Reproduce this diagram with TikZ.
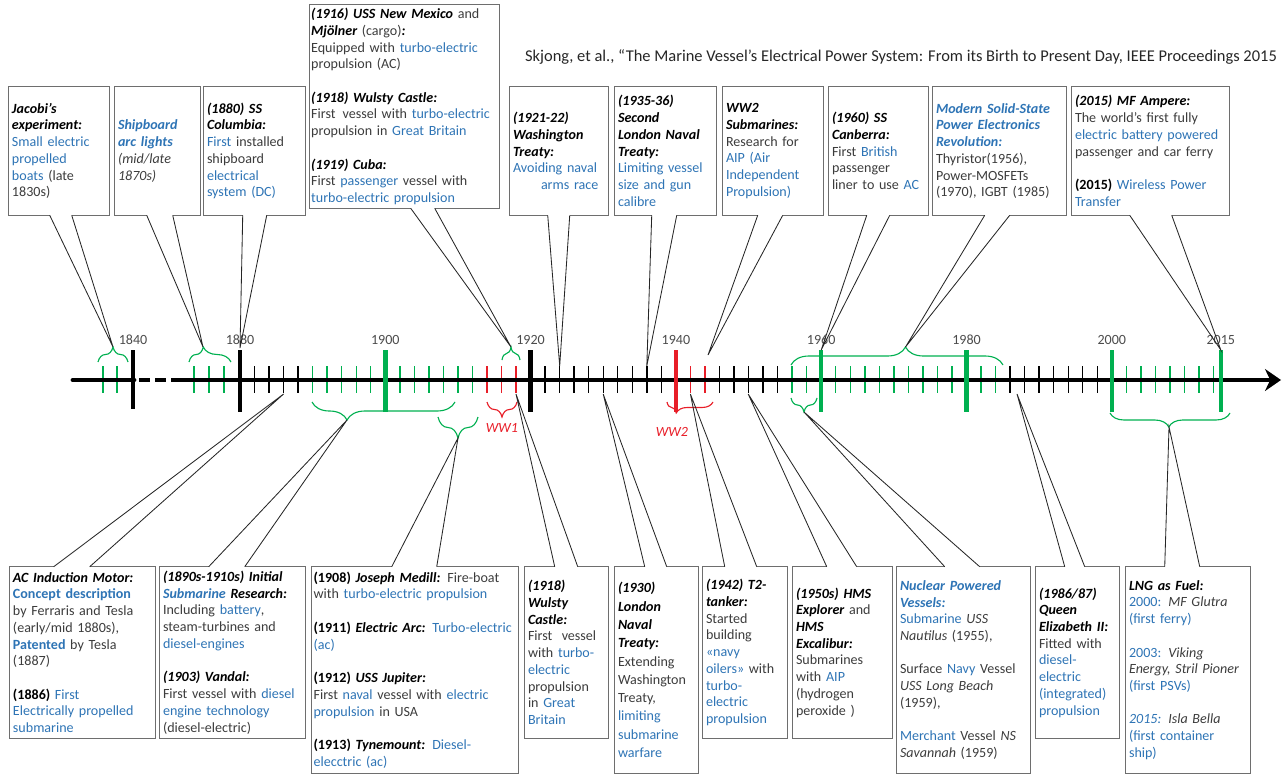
\documentclass[tikz,border=0pt]{standalone}
\usepackage{fontspec}
\setmainfont{Carlito}
\usetikzlibrary{arrows.meta,calc,decorations.pathreplacing}

\definecolor{txtgray}{RGB}{60,60,60}
\definecolor{hiblue}{RGB}{46,116,181}
\definecolor{tlgreen}{RGB}{0,176,80}
\definecolor{tlred}{RGB}{232,30,40}
\definecolor{boxgray}{RGB}{110,110,110}

\newcommand{\blu}[1]{\textcolor{hiblue}{#1}}
\newcommand{\blub}[1]{\textcolor{hiblue}{\bfseries #1}}
\newcommand{\bluh}[1]{\textcolor{hiblue}{\bfseries\itshape #1}}
\newcommand{\hdg}[1]{\textcolor{black}{\bfseries\itshape #1}}
\newcommand{\yrb}[1]{\textcolor{black}{\bfseries #1}}

% box with pointer below (#1 box, #2 tip, #3/#4 base offsets from the left side)
\newcommand{\calldown}[4]{%
  \draw[boxline] ($(#1.south west)+(#3,0)$) -- (#1.south west) -- (#1.north west)
    -- (#1.north east) -- (#1.south east) -- ($(#1.south west)+(#4,0)$);
  \draw[pointer] ($(#1.south west)+(#3,0)$) -- (#2) -- ($(#1.south west)+(#4,0)$);}
% box with pointer above
\newcommand{\callup}[4]{%
  \draw[boxline] ($(#1.north west)+(#3,0)$) -- (#1.north west) -- (#1.south west)
    -- (#1.south east) -- (#1.north east) -- ($(#1.north west)+(#4,0)$);
  \draw[pointer] ($(#1.north west)+(#3,0)$) -- (#2) -- ($(#1.north west)+(#4,0)$);}

\begin{document}
\begin{tikzpicture}[x=0.25mm, y=-0.25mm,
  tbox/.style={align=left, inner xsep=0.75mm, inner ysep=0.5mm, text=txtgray,
    font=\fontsize{10}{11.9}\selectfont},
  boxline/.style={draw=boxgray, line width=0.9pt},
  pointer/.style={draw=black!85, line width=0.6pt},
  axisline/.style={line width=3.5pt, black},
  thintick/.style={line width=1pt},
  yeartick/.style={line width=3.2pt},
  yearlbl/.style={text=black!70, font=\fontsize{10}{12}\selectfont},
  upbrace/.style={draw=tlgreen, line width=0.8pt, decorate, decoration={brace, #1}},
  dnbrace/.style={draw=tlgreen, line width=0.8pt, decorate, decoration={brace, mirror, #1}},
  wwlbl/.style={text=tlred, font=\fontsize{10}{12}\selectfont\itshape}]

\useasboundingbox (0,0) rectangle (1282,774);

% Reference
\node[font=\fontsize{11.7}{14}\selectfont, text=black!85] (ref) at (901,57)
  {Skjong, et al., “The Marine Vessel’s Electrical Power System: From its Birth to Present Day, IEEE Proceedings 2015};

% Timeline: thin ticks
\foreach \x in {103,117,194,209,224} \draw[thintick,tlgreen] (\x,366) -- (\x,393);
\foreach \yr in {1882,1884,1886,1888,1922,1924,...,1938,1946,1948,...,1954,1986,1988,...,1998}
  \draw[thintick] ({240+(\yr-1880)*7.265},366) -- ++(0,27);
\foreach \yr in {1890,1892,...,1898,1902,1904,...,1912,1956,1958,1962,1964,...,1978,1982,1984,2002,2004,...,2014}
  \draw[thintick,tlgreen] ({240+(\yr-1880)*7.265},366) -- ++(0,27);
\foreach \yr in {1914,1916,1918,1942,1944}
  \draw[thintick,tlred] ({240+(\yr-1880)*7.265},366) -- ++(0,27);

% axis
\draw[axisline, line cap=round] (73,380) -- (134,380);
\draw[axisline, dash pattern=on 2.75mm off 1.25mm] (139,380) -- (181,380);
\draw[axisline, -{Stealth[length=4mm,width=5.5mm]}] (181,380) -- (1281,380);

% year ticks and labels
\draw[yeartick] (133,350) -- (133,409);
\draw[yeartick] (240,350) -- (240,412);
\foreach \yr/\col in {1900/tlgreen,1920/black,1940/tlred,1960/tlgreen,1980/tlgreen,2000/tlgreen,2015/tlgreen}
  \draw[yeartick,\col] ({240+(\yr-1880)*7.265},350) -- ++(0,62);
\node[yearlbl] (y1840) at (133,340) {1840};
\node[yearlbl] (y1880) at (240,340) {1880};
\foreach \yr in {1900,1920,...,2000,2015}
  \node[yearlbl] (y\yr) at ({240+(\yr-1880)*7.265},340) {\yr};

% braces
\draw[upbrace={amplitude=3.75mm}] (98,362) -- (128,362);
\draw[upbrace={amplitude=3.75mm, aspect=0.34}] (189,362) -- (231,362);
\draw[upbrace={amplitude=3.25mm}] (502,360) -- (520,360);
\draw[upbrace={amplitude=4.5mm, aspect=0.54}] (791,365) -- (1003,365);
\draw[dnbrace={amplitude=4.5mm, aspect=0.245}] (312,402) -- (455,402);
\draw[dnbrace={amplitude=5.25mm}] (438,417) -- (478,417);
\draw[dnbrace={amplitude=3.5mm}] (791,398) -- (817,398);
\draw[dnbrace={amplitude=3.5mm, aspect=0.49}] (1110,413) -- (1230,413);
\draw[dnbrace={amplitude=3.75mm}, draw=tlred] (487,402) -- (517,402);
\draw[dnbrace={amplitude=2.75mm, aspect=0.2}, draw=tlred] (667,402) -- (713,402);
\node[wwlbl] (ww1) at (502,428) {WW1};
\node[wwlbl] (ww2) at (672,432) {WW2};

% pointer tips
\coordinate (br1836) at (113,347);
\coordinate (br1875) at (203,347);
\coordinate (t1880) at (240,348);
\coordinate (br1917) at (511,347);
\coordinate (t1924) at (559.7,366);
\coordinate (t1936) at (646.8,366);
\coordinate (t1944) at (708,355);
\coordinate (t1960) at (821.2,350);
\coordinate (br1970) at (905.5,347);
\coordinate (t2015) at (1220.8,350);
\coordinate (t1886) at (283.6,394);
\coordinate (br1900) at (347,420);
\coordinate (br1911) at (458,438);
\coordinate (t1918) at (516,394);
\coordinate (t1930) at (603.2,394);
\coordinate (t1942) at (690.4,394);
\coordinate (t1950) at (748.2,394);
\coordinate (br1957) at (804,412);
\coordinate (t1987) at (1017,394);
\coordinate (br2007) at (1169,427);

% Top row
\node[tbox, text width=23.5mm, minimum height=32mm] (jac) at (59,151)
  {\hdg{Jacobi’s}\\ \hdg{experiment:}\\ \blu{Small electric}\\ \blu{propelled}\\ \blu{boats} (late\\ 1830s)};
\node[tbox, text width=19.75mm, minimum height=32mm] (arc) at (157.5,151)
  {\bluh{Shipboard}\\ \bluh{arc lights}\\ \textit{(mid/late}\\ \textit{1870s)}};
\node[tbox, text width=23.75mm, minimum height=32mm] (col) at (254.5,151)
  {\hdg{(1880) SS}\\ \hdg{Columbia:}\\ \blu{First} installed\\ shipboard\\ \blu{electrical}\\ \blu{system (DC)}};
\node[tbox, inner xsep=0.3mm, text width=46.65mm, minimum height=50.75mm] (mex) at (404.5,106.5)
  {\hdg{(1916) USS New Mexico} and\\ \hdg{Mjölner} (cargo)\hdg{:}\\ Equipped with \blu{turbo-electric}\\ propulsion (AC)\\ ~\\
   \hdg{(1918) Wulsty Castle:}\\ First\,\ vessel with \blu{turbo-electric}\\ propulsion in \blu{Great Britain}\\ ~\\
   \hdg{(1919) Cuba:}\\ First \blu{passenger} vessel with\\ \blu{turbo-electric propulsion}};
\node[tbox, text width=23mm, minimum height=32mm] (was) at (559,151)
  {\hdg{(1921-22)}\\ \hdg{Washington}\\ \hdg{Treaty:}\\ \blu{Avoiding naval}\\ \hspace*{7mm}\blu{arms race}};
\node[tbox, text width=23.75mm, minimum height=32mm] (lon) at (665.5,151)
  {\hdg{(1935-36)}\\ \hdg{Second}\\ \hdg{London Naval}\\ \hdg{Treaty:}\\ \blu{Limiting vessel}\\ \blu{size and gun}\\ \blu{calibre}};
\node[tbox, text width=23.5mm, minimum height=32mm] (sub) at (773,151)
  {\hdg{WW2}\\ \hdg{Submarines:}\\ Research for\\ \blu{AIP (Air}\\ \blu{Independent}\\ \blu{Propulsion)}};
\node[tbox, text width=23.25mm, minimum height=32mm] (can) at (878.5,151)
  {\hdg{(1960) SS}\\ \hdg{Canberra:}\\ First \blu{British}\\ passenger\\ liner to use \blu{AC}};
\node[tbox, text width=31.75mm, minimum height=32mm] (sst) at (999.5,151)
  {\bluh{Modern Solid-State}\\ \bluh{Power Electronics}\\ \bluh{Revolution:}\\ Thyristor(1956),\\ Power-MOSFETs\\ (1970), IGBT (1985)};
\node[tbox, text width=37.75mm, minimum height=32mm] (amp) at (1150.5,151)
  {\hdg{(2015) MF Ampere:}\\ The world’s first fully\\ \blu{electric battery powered}\\ passenger and car ferry\\ ~\\ \yrb{(2015)} \blu{Wireless Power}\\ \blu{Transfer}};

\calldown{jac}{br1836}{41}{63}
\calldown{arc}{br1875}{32}{58}
\calldown{col}{t1880}{39}{63}
\calldown{mex}{br1917}{101}{125}
\calldown{was}{t1924}{38}{60}
\calldown{lon}{t1936}{37}{62}
\calldown{sub}{t1944}{35}{60}
\calldown{can}{t1960}{38}{61}
\calldown{sst}{br1970}{52}{77}
\calldown{amp}{t2015}{58}{100}

% Bottom row
\node[tbox, text width=34.75mm, minimum height=42.75mm] (acm) at (82.5,652.5)
  {\hdg{AC Induction Motor:}\\ \blub{Concept description}\\ by Ferraris and Tesla\\ (early/mid 1880s),\\ \blub{Patented} by Tesla\\ (1887)\\ ~\\
   \yrb{(1886)} \blu{First}\\ \blu{Electrically propelled}\\ \blu{submarine}};
\node[tbox, text width=34.75mm, minimum height=42.75mm] (isr) at (232.5,652.5)
  {\hdg{(1890s-1910s) Initial}\\ \bluh{Submarine} \hdg{Research:}\\ Including \blu{battery},\\ steam-turbines and\\ \blu{diesel-engines}\\ ~\\
   \hdg{(1903) Vandal:}\\ First vessel with \blu{diesel}\\ \blu{engine technology}\\ (diesel-electric)};
\node[tbox, inner xsep=0.4mm, text width=50.7mm, minimum height=51.5mm] (jmd) at (415,670)
  {\yrb{(1908)} \hdg{Joseph Medill:} Fire-boat\\ with \blu{turbo-electric propulsion}\\ ~\\
   \yrb{(1911)} \hdg{Electric Arc:} \blu{Turbo-electric}\\ \blu{(ac)}\\ ~\\
   \yrb{(1912)} \hdg{USS Jupiter:}\\ First \blu{naval} vessel with \blu{electric}\\ \blu{propulsion} in USA\\ ~\\
   \yrb{(1913)} \hdg{Tynemount:} \blu{Diesel-}\\ \blu{elecctric (ac)}};
\node[tbox, text width=19.25mm, minimum height=42.75mm] (wul) at (566.5,652.5)
  {\hdg{(1918)}\\ \hdg{Wulsty}\\ \hdg{Castle:}\\ First\ \ vessel\\ with \blu{turbo-}\\ \blu{electric}\\ propulsion\\ in \blu{Great}\\ \blu{Britain}};
\node[tbox, text width=19.25mm, minimum height=51.5mm, font=\fontsize{10}{13}\selectfont] (lnt) at (656.5,670)
  {\hdg{(1930)}\\ \hdg{London}\\ \hdg{Naval}\\ \hdg{Treaty:}\\ Extending\\ Washington\\ Treaty,\\ \blu{limiting}\\ \blu{submarine}\\ \blu{warfare}};
\node[tbox, text width=19.5mm, minimum height=42.75mm] (tnk) at (745,652.5)
  {\hdg{(1942) T2-}\\ \hdg{tanker:}\\ Started\\ building\\ \blu{«navy}\\ \blu{oilers»} with\\ \blu{turbo-}\\ \blu{electric}\\ \blu{propulsion}};
\node[tbox, text width=23.25mm, minimum height=42.75mm] (hms) at (842.5,652.5)
  {\hdg{(1950s) HMS}\\ \hdg{Explorer} and\\ \hdg{HMS}\\ \hdg{Excalibur:}\\ Submarines\\ with \blu{AIP}\\ (hydrogen\\ peroxide )};
\node[tbox, text width=31.75mm, minimum height=51.5mm] (nuc) at (963.5,670)
  {\bluh{Nuclear Powered}\\ \bluh{Vessels:}\\ \blu{Submarine} \textit{USS}\\ \textit{Nautilus} (1955),\\ ~\\
   Surface \blu{Navy} Vessel\\ \textit{USS Long Beach}\\ (1959),\\ ~\\ \blu{Merchant} Vessel \textit{NS}\\ \textit{Savannah} (1959)};
\node[tbox, text width=19.25mm, minimum height=42.75mm] (qe2) at (1077.5,652.5)
  {\hdg{(1986/87)}\\ \hdg{Queen}\\ \hdg{Elizabeth II:}\\ Fitted with\\ \blu{diesel-}\\ \blu{electric}\\ \blu{(integrated)}\\ \blu{propulsion}};
\node[tbox, text width=29.5mm, minimum height=51.5mm] (lng) at (1188,670)
  {\hdg{LNG as Fuel:}\\ \blu{2000:} \textit{MF Glutra}\\ \blu{(first ferry)}\\ ~\\ \blu{2003:} \textit{Viking}\\ \textit{Energy, Stril Pioner}\\ \blu{(first PSVs)}\\ ~\\
   \blu{\itshape 2015:} \textit{Isla Bella}\\ \blu{(first container}\\ \blu{ship)}};

\callup{acm}{t1886}{44}{80}
\callup{isr}{br1900}{49}{85}
\callup{jmd}{br1911}{80}{125}
\callup{wul}{t1918}{30}{53}
\callup{lnt}{t1930}{30}{52}
\callup{tnk}{t1942}{22}{54}
\callup{hms}{t1950}{34}{64}
\callup{nuc}{br1957}{48}{83}
\callup{qe2}{t1987}{29}{49}
\callup{lng}{br2007}{39}{74}

\end{tikzpicture}
\end{document}
